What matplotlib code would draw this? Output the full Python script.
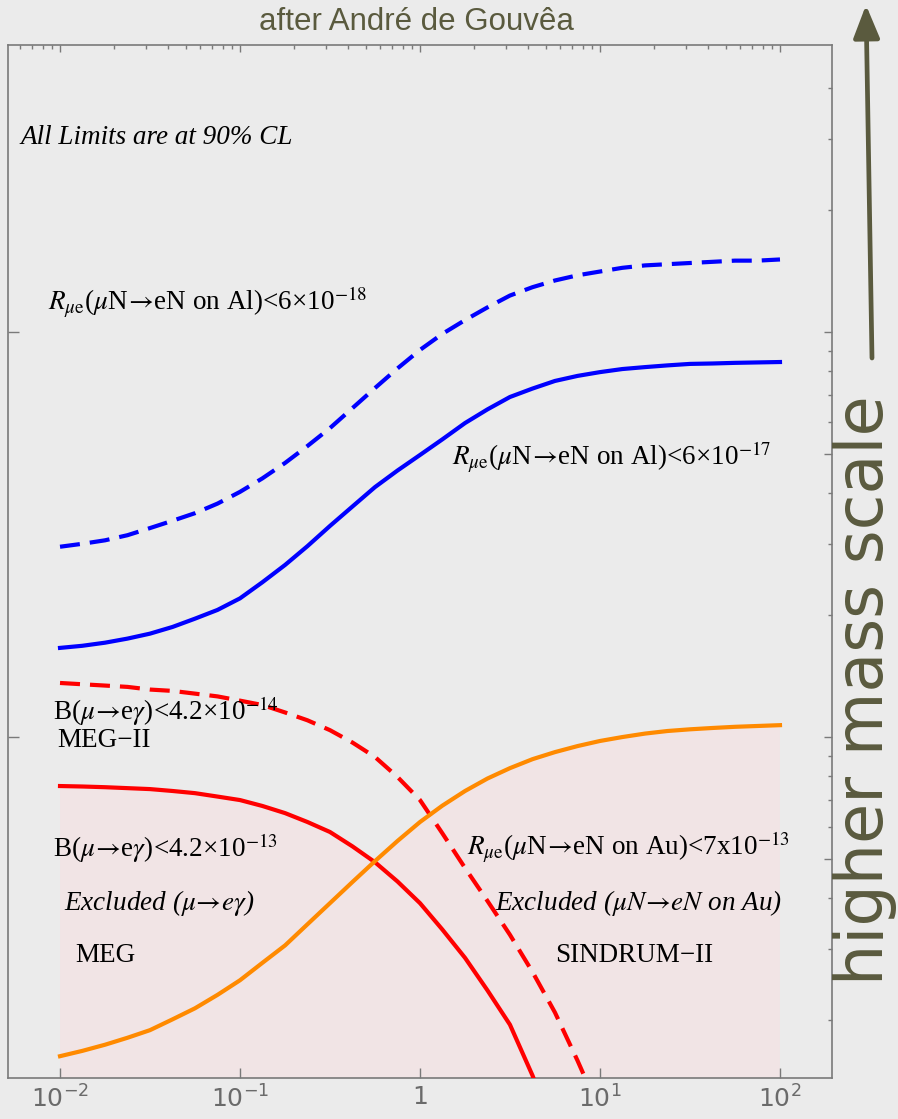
import numpy as np
import matplotlib.pyplot as plt
from matplotlib.patches import FancyArrowPatch
from matplotlib.ticker import FixedLocator, NullLocator, NullFormatter

plt.rcParams['font.family'] = ['Liberation Serif', 'DejaVu Serif']
plt.rcParams['mathtext.fontset'] = 'stix'

# kappa grid (eighth decades) and Lambda values
kappa = [0.01, 0.0133, 0.0178, 0.0237, 0.0316, 0.0422, 0.0562, 0.075,
         0.1, 0.133, 0.178, 0.237, 0.316, 0.422, 0.562, 0.75,
         1.0, 1.33, 1.78, 2.37, 3.16, 4.22, 5.62, 7.5,
         10.0, 13.3, 17.8, 23.7, 31.6, 42.2, 56.2, 75.0, 100.0]

al_future = [2950, 3000, 3060, 3150, 3280, 3420, 3570, 3770,
             4030, 4350, 4750, 5230, 5790, 6490, 7270, 8130,
             9030, 9890, 10700, 11500, 12300, 12900, 13400, 13800,
             14100, 14400, 14600, 14700, 14800, 14900, 15000, 15000, 15100]
al_near = [1660, 1680, 1710, 1750, 1800, 1870, 1960, 2060,
           2200, 2410, 2660, 2960, 3320, 3710, 4140, 4550,
           4970, 5430, 5960, 6440, 6910, 7250, 7570, 7790,
           7960, 8100, 8190, 8270, 8340, 8360, 8390, 8410, 8430]
meg2 = [1360, 1350, 1340, 1330, 1310, 1300, 1280, 1260,
        1230, 1200, 1150, 1100, 1040, 969, 893, 797,
        699, 579, 475, 394, 325, 263, 209, 159, 119]
meg = [757, 755, 752, 748, 744, 736, 727, 713,
       699, 676, 649, 617, 583, 537, 491, 440,
       389, 335, 285, 237, 195, 146, 104]
sindrum = [163, 168, 174, 181, 189, 201, 214, 231,
           251, 277, 306, 345, 389, 439, 494, 554,
           617, 677, 736, 790, 838, 882, 918, 950,
           978, 1000, 1020, 1035, 1045, 1053, 1060, 1065, 1070]

xtick_vals = [0.01, 0.1, 1, 10, 100]
xtick_labels = ['$10^{-2}$', '$10^{-1}$', '1', '$10^{1}$', '$10^{2}$']

bg = '#ebebeb'
olive = '#5a5a3e'
tick_col = '#7a7a7a'

fig = plt.figure(figsize=(8.98, 11.19), dpi=100)
fig.patch.set_facecolor(bg)
ax = fig.add_axes([8/898, 41/1119, 824/898, 1033/1119])
ax.set_facecolor(bg)
ax.set_xscale('log')
ax.set_yscale('log')
ax.set_xlim(10**-2.289, 10**2.289)
ax.set_ylim(144, 51100)

# excluded region: below the stronger of MEG and SINDRUM-II
excl_top = np.array(sindrum, dtype=float)
excl_top[:len(meg)] = np.maximum(excl_top[:len(meg)], meg)
ax.fill_between(kappa, 1, excl_top, color='#f1e4e5', lw=0, zorder=1)

lw = 3
dash = (0, (4.8, 2.4))
ax.plot(kappa, al_future, color='#0000ff', lw=lw, ls=dash, zorder=3)
ax.plot(kappa, al_near, color='#0000ff', lw=lw, zorder=3)
ax.plot(kappa[:len(meg2)], meg2, color='#ff0000', lw=lw, ls=dash, zorder=3)
ax.plot(kappa[:len(meg)], meg, color='#ff0000', lw=lw, zorder=3)
ax.plot(kappa, sindrum, color='#ff8a00', lw=lw, zorder=3)

# axes frame and ticks
for s in ax.spines.values():
    s.set_color(tick_col)
    s.set_linewidth(1.2)

ax.set_xticks(xtick_vals)
ax.set_xticklabels(xtick_labels, fontsize=18, color='#6a6a6a',
                   fontfamily='DejaVu Sans', math_fontfamily='dejavusans')
ax.xaxis.set_minor_locator(NullLocator())
ax.yaxis.set_major_locator(FixedLocator([1000, 10000]))
ax.yaxis.set_major_formatter(NullFormatter())
ax.yaxis.set_minor_locator(NullLocator())
ax.tick_params(axis='x', which='major', direction='in', length=7, width=1,
               color=tick_col, pad=5, top=False)
ax.tick_params(axis='y', which='major', direction='in', length=8, width=1,
               color=tick_col, right=False)

minor_pos = [k * 10.0**e for e in range(-3, 5) for k in range(2, 10)]

axt = ax.twiny()
axt.set_xscale('log')
axt.set_xlim(ax.get_xlim())
axt.xaxis.set_major_locator(FixedLocator(xtick_vals))
axt.xaxis.set_minor_locator(FixedLocator(minor_pos))
axt.xaxis.set_major_formatter(NullFormatter())
axt.xaxis.set_minor_formatter(NullFormatter())
axt.tick_params(axis='x', which='major', direction='in', length=5, width=1, color=tick_col)
axt.tick_params(axis='x', which='minor', direction='in', length=3, width=1, color=tick_col)

axr = ax.twinx()
axr.set_yscale('log')
axr.set_ylim(ax.get_ylim())
axr.yaxis.set_major_locator(FixedLocator([500, 1000, 5000, 10000]))
axr.yaxis.set_minor_locator(FixedLocator([v for v in minor_pos if round(v / 10**np.floor(np.log10(v))) != 5]))
axr.yaxis.set_major_formatter(NullFormatter())
axr.yaxis.set_minor_formatter(NullFormatter())
axr.tick_params(axis='y', which='major', direction='in', length=6, width=1, color=tick_col)
axr.tick_params(axis='y', which='minor', direction='in', length=3, width=1, color=tick_col)
for a in (axt, axr):
    for s in a.spines.values():
        s.set_visible(False)

# labels
fs = 19.5
tr = ax.transAxes
arr = r'$\!\rightarrow\!$'
ax.text(0.0146, 0.904, 'All Limits are at 90% CL', style='italic', fontsize=fs, transform=tr)
ax.text(0.0485, 0.7435, r'$R_{\mu\mathrm{e}}$($\mu$N' + arr + r'eN on Al)<6×10$^{-18}$',
        fontsize=fs, transform=tr)
ax.text(0.539, 0.5934, r'$R_{\mu\mathrm{e}}$($\mu$N' + arr + r'eN on Al)<6×10$^{-17}$',
        fontsize=fs, transform=tr)
ax.text(0.0546, 0.3466, r'B($\mu$' + arr + r'e$\gamma$)<4.2×10$^{-14}$', fontsize=fs, transform=tr, zorder=4)
ax.text(0.0595, 0.3204, 'MEG\u2212II', fontsize=fs, transform=tr)
ax.text(0.0546, 0.2139, r'B($\mu$' + arr + r'e$\gamma$)<4.2×10$^{-13}$', fontsize=fs, transform=tr)
ax.text(0.068, 0.1626, r'Excluded ($\mu\!\rightarrow\! e\gamma$)', style='italic', fontsize=fs, transform=tr)
ax.text(0.0813, 0.1123, 'MEG', fontsize=fs, transform=tr)
ax.text(0.557, 0.2159, r'$R_{\mu\mathrm{e}}$($\mu$N' + arr + r'eN on Au)<7x10$^{-13}$',
        fontsize=fs, transform=tr)
ax.text(0.591, 0.1626, r'Excluded ($\mu N\!\rightarrow\! eN$ on Au)', style='italic', fontsize=fs, transform=tr)
ax.text(0.664, 0.1123, 'SINDRUM\u2212II', fontsize=fs, transform=tr)

fig.text(416/898, 1 - 22/1119, 'after Andr\u00e9 de Gouv\u00eaa', ha='center', va='center',
         fontsize=22.5, color=olive, family='Liberation Sans')
fig.text(865/898, 1 - 690/1119, 'higher mass scale', rotation=90, ha='center', va='center',
         fontsize=47, color=olive, family='DejaVu Sans')
arrow = FancyArrowPatch((872/898, (1119 - 358)/1119), (866/898, (1119 - 5)/1119),
                        transform=fig.transFigure, arrowstyle='-|>,head_length=1.0,head_width=0.4',
                        mutation_scale=20, lw=3.4, color=olive, shrinkA=0, shrinkB=0)
fig.add_artist(arrow)

fig.savefig('out.png', dpi=100, facecolor=bg)
